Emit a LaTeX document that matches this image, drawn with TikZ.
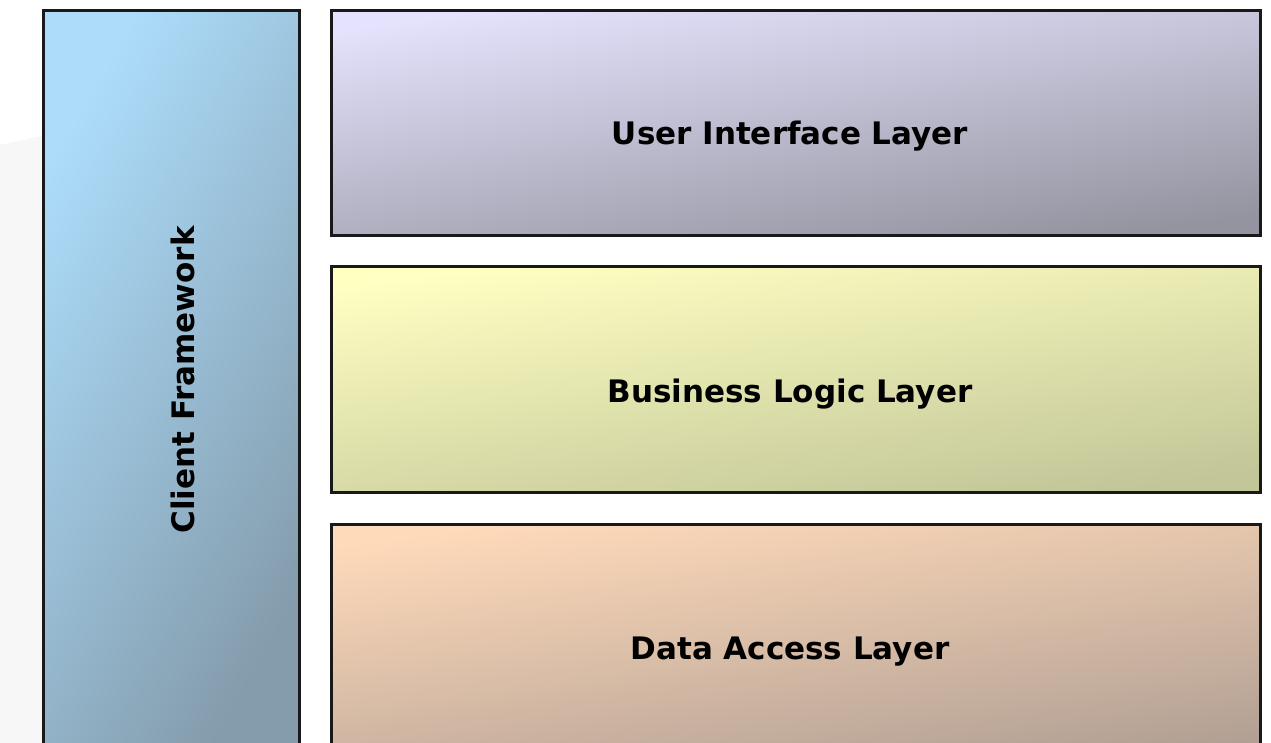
\documentclass[tikz,border=0pt]{standalone}
\usepackage{fontspec}
\setmainfont{DejaVu Sans}
\begin{document}
\begin{tikzpicture}[x=1pt,y=-1pt,
  layerbox/.style={draw=black!90, line width=3pt, shading=axis},
  tilt/.style={shading angle=#1},
  layertext/.style={font=\bfseries\fontsize{31}{36}\selectfont, text=black, anchor=base, inner sep=0pt}]
  \clip (0,0) rectangle (1271,743);
  \fill[white] (0,0) rectangle (1271,743);
  % faint grey backdrop at the left edge
  \fill[black!3] (0,145) -- (42,136) -- (42,743) -- (0,743) -- cycle;

  % client framework column
  \path[layerbox, top color={rgb,255:red,172;green,220;blue,250}, bottom color={rgb,255:red,132;green,156;blue,172}, tilt=60]
    (43,11) rectangle (299,760);
  \node[layertext, rotate=90] (cf) at (194,380) {Client Framework};

  % three stacked layers
  \path[layerbox, top color={rgb,255:red,228;green,226;blue,252}, bottom color={rgb,255:red,148;green,148;blue,160}, tilt=8]
    (331,11) rectangle (1260,236);
  \node[layertext] (ui) at (790,145) {User Interface Layer};

  \path[layerbox, top color={rgb,255:red,255;green,255;blue,194}, bottom color={rgb,255:red,194;green,198;blue,152}, tilt=8]
    (331,267) rectangle (1260,492);
  \node[layertext] (bl) at (790,402) {Business Logic Layer};

  \path[layerbox, top color={rgb,255:red,255;green,218;blue,186}, bottom color={rgb,255:red,178;green,160;blue,148}, tilt=8]
    (331,524) rectangle (1260,760);
  \node[layertext] (da) at (790,659) {Data Access Layer};
\end{tikzpicture}
\end{document}
